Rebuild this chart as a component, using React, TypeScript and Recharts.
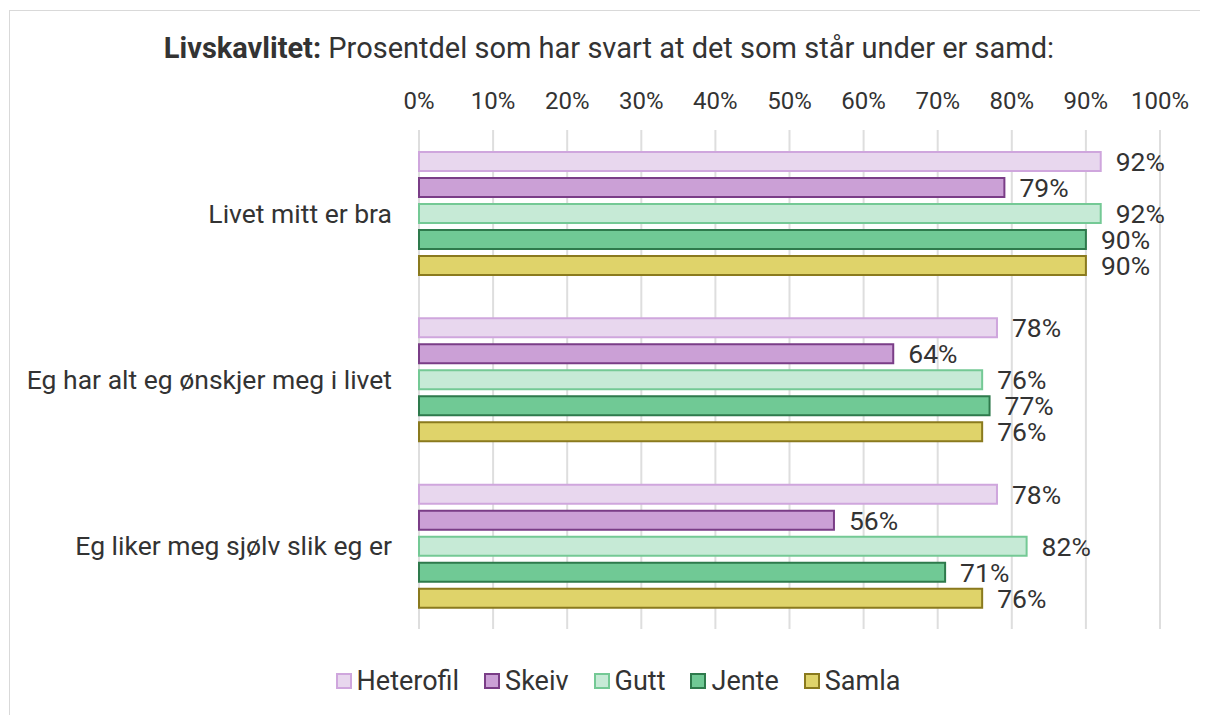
import React from 'react';
import { BarChart, Bar, XAxis, YAxis, CartesianGrid, Legend, LabelList } from 'recharts';

const categories = ['Livet mitt er bra', 'Eg har alt eg ønskjer meg i livet', 'Eg liker meg sjølv slik eg er'];
const heterofil = [92, 78, 78];
const skeiv = [79, 64, 56];
const gutt = [92, 76, 82];
const jente = [90, 77, 71];
const samla = [90, 76, 76];
const xTicks = [0, 10, 20, 30, 40, 50, 60, 70, 80, 90, 100];

const series = [
  { key: 'heterofil', name: 'Heterofil', fill: '#e8d7ee', stroke: '#cfa6dd' },
  { key: 'skeiv', name: 'Skeiv', fill: '#cba0d6', stroke: '#7a3d87' },
  { key: 'gutt', name: 'Gutt', fill: '#c6ead6', stroke: '#74c995' },
  { key: 'jente', name: 'Jente', fill: '#70c995', stroke: '#2e7a4c' },
  { key: 'samla', name: 'Samla', fill: '#dfd36a', stroke: '#8a7a1e' },
];

const data = categories.map((c, i) => ({
  category: c,
  heterofil: heterofil[i],
  skeiv: skeiv[i],
  gutt: gutt[i],
  jente: jente[i],
  samla: samla[i],
}));

const FONT = 'Roboto, "Noto Sans", sans-serif';
const TEXT = '#333333';

const renderLegend = () => (
  <div
    style={{
      display: 'flex',
      justifyContent: 'center',
      gap: 25,
      fontFamily: FONT,
      fontSize: 27,
      lineHeight: '30px',
      color: TEXT,
      paddingLeft: 66,
    }}
  >
    {series.map((s) => (
      <div key={s.key} style={{ display: 'flex', alignItems: 'center' }}>
        <span
          style={{
            display: 'inline-block',
            width: 12,
            height: 12,
            background: s.fill,
            border: `2px solid ${s.stroke}`,
            marginRight: 5,
          }}
        />
        <span>{s.name}</span>
      </div>
    ))}
  </div>
);

export default function App() {
  return (
    <div
      style={{
        position: 'relative',
        marginLeft: 1,
        marginTop: 2,
        width: 1210,
        height: 720,
        border: '1px solid #d9d9d9',
        background: '#fff',
        overflow: 'hidden',
      }}
    >
      <div
        style={{
          position: 'absolute',
          top: 19,
          left: 0,
          width: 1198,
          textAlign: 'center',
          fontFamily: FONT,
          fontSize: 29,
          color: TEXT,
          lineHeight: '36px',
        }}
      >
        <b>Livskavlitet:</b> Prosentdel som har svart at det som står under er samd:
      </div>
      <BarChart
        width={1198}
        height={700}
        data={data}
        layout="vertical"
        margin={{ top: 69, right: 48, left: 0, bottom: 15 }}
        barSize={19}
        barGap={7}
      >
        <CartesianGrid horizontal={false} stroke="#dedede" strokeWidth={2} />
        <XAxis
          type="number"
          orientation="top"
          domain={[0, 100]}
          ticks={xTicks}
          tickFormatter={(v) => `${v}%`}
          axisLine={false}
          tickLine={false}
          tickMargin={15}
          height={50}
          tick={{ fontSize: 24, fill: TEXT, fontFamily: FONT }}
        />
        <YAxis
          type="category"
          dataKey="category"
          width={409}
          axisLine={false}
          tickLine={false}
          tickMargin={21}
          tick={{ fontSize: 26.5, fill: TEXT, fontFamily: FONT }}
        />
        <Legend verticalAlign="bottom" content={renderLegend} wrapperStyle={{ paddingTop: 37 }} />
        {series.map((s) => (
          <Bar
            key={s.key}
            dataKey={s.key}
            name={s.name}
            fill={s.fill}
            stroke={s.stroke}
            strokeWidth={2}
            isAnimationActive={false}
          >
            <LabelList
              dataKey={s.key}
              position="right"
              offset={15}
              formatter={(v: number) => `${v}%`}
              style={{ fontSize: 26.5, fill: TEXT, fontFamily: FONT }}
            />
          </Bar>
        ))}
      </BarChart>
    </div>
  );
}
